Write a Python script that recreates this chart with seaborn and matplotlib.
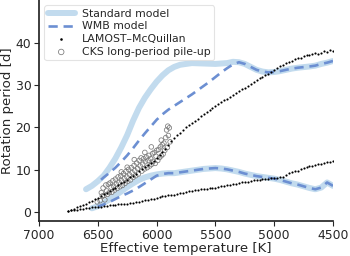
import numpy as np
import pandas as pd
import matplotlib
matplotlib.use("Agg")
import matplotlib.pyplot as plt
import seaborn as sns

# ---------------- data ----------------
std_up_T = [6600, 6550, 6500, 6450, 6400, 6350, 6300, 6250, 6200, 6150, 6100, 6050, 6000,
            5950, 5900, 5850, 5800, 5750, 5700, 5600, 5500, 5400, 5350]
std_up_P = [5.4, 6.2, 7.3, 8.6, 10.5, 12.7, 15.3, 18.2, 21.6, 24.6, 27.0, 29.0, 30.8,
            32.3, 33.5, 34.3, 34.8, 35.0, 35.2, 35.1, 35.0, 35.2, 35.5]
cool_up_T = [5300, 5250, 5200, 5150, 5100, 5050, 5000, 4950, 4900, 4850, 4800, 4700,
             4650, 4600, 4550, 4500]
cool_up_P = [35.4, 35.0, 34.3, 33.6, 33.2, 33.0, 33.1, 33.3, 33.6, 33.9, 34.1, 34.4,
             34.6, 35.0, 35.3, 35.7]
wmb_up_T = [6490, 6450, 6400, 6350, 6300, 6250, 6200, 6150, 6100, 6050, 6000, 5950,
            5900, 5850, 5800, 5750, 5700, 5650, 5600, 5550, 5500, 5450, 5400, 5350]
wmb_up_P = [7.2, 8.2, 9.3, 10.5, 11.9, 13.4, 15.1, 16.9, 18.6, 20.2, 21.8, 23.1,
            24.2, 25.1, 26.0, 26.9, 27.8, 28.8, 29.8, 30.8, 31.9, 33.0, 34.0, 34.9]

std_lo_T = [6550, 6500, 6450, 6400, 6350, 6300, 6250, 6200, 6150, 6100, 6050, 6000, 5950]
std_lo_P = [0.9, 1.4, 2.2, 3.0, 3.9, 4.9, 5.9, 6.8, 7.6, 8.2, 8.6, 8.9, 9.1]
wmb_lo_T = [6500, 6450, 6400, 6350, 6300, 6250, 6200, 6150, 6100, 6050, 6000, 5950]
wmb_lo_P = [1.3, 1.8, 2.4, 3.1, 3.8, 4.4, 5.1, 5.9, 6.8, 7.7, 8.6, 9.0]
cool_lo_T = [5900, 5850, 5800, 5750, 5700, 5650, 5600, 5550, 5500, 5450, 5400, 5350,
             5300, 5250, 5200, 5150, 5100, 5050, 5000, 4950, 4900, 4850, 4800, 4750,
             4700, 4650, 4600, 4550, 4500]
cool_lo_P = [9.2, 9.2, 9.4, 9.6, 9.8, 10.0, 10.2, 10.3, 10.4, 10.3, 10.1, 9.8,
             9.5, 9.1, 8.8, 8.5, 8.3, 8.1, 7.9, 7.6, 7.2, 6.8, 6.5, 6.1,
             5.7, 5.4, 5.8, 7.0, 6.2]

lam_T = [6750, 6725, 6700, 6675, 6650, 6625, 6600, 6575, 6550, 6525, 6500, 6475, 6450,
         6425, 6400, 6375, 6350, 6325, 6300, 6275, 6250, 6225, 6200, 6175, 6150, 6125,
         6100, 6075, 6050, 6025, 6000, 5975, 5950, 5925, 5900, 5875, 5850, 5825, 5800,
         5775, 5750, 5725, 5700, 5675, 5650, 5625, 5600, 5575, 5550, 5525, 5500, 5475,
         5450, 5425, 5400, 5375, 5350, 5325, 5300, 5275, 5250, 5225, 5200, 5175, 5150,
         5125, 5100, 5075, 5050, 5025, 5000, 4975, 4950, 4925, 4900, 4875, 4850, 4825,
         4800, 4775, 4750, 4725, 4700, 4675, 4650, 4625, 4600, 4575, 4550, 4525, 4500]
lam_up_P = [0.3, 0.5, 0.8, 1.1, 1.4, 1.7, 2.0, 2.3, 2.7, 3.0, 3.4, 3.8, 4.2,
            4.6, 5.0, 5.4, 5.8, 6.3, 6.8, 7.2, 7.7, 8.2, 8.6, 9.1, 9.6, 10.1,
            10.6, 11.1, 11.6, 12.1, 12.7, 13.4, 14.2, 15.0, 15.9, 16.7, 17.5, 18.2, 18.8,
            19.4, 20.0, 20.5, 21.0, 21.5, 22.0, 22.6, 23.2, 23.7, 24.2, 24.7, 25.1, 25.6,
            26.0, 26.4, 26.8, 27.2, 27.6, 28.1, 28.5, 29.0, 29.4, 29.9, 30.3, 30.7, 31.1,
            31.6, 31.9, 32.3, 32.6, 33.1, 33.5, 34.1, 34.5, 34.7, 35.2, 35.4, 35.7, 36.2,
            36.3, 36.5, 36.8, 37.2, 37.0, 37.4, 37.5, 37.3, 37.6, 38.1, 37.8, 38.2, 38.0]
lam_lo_P = [0.3, 0.4, 0.5, 0.6, 0.7, 0.8, 0.9, 1.0, 1.1, 1.1, 1.2, 1.3, 1.4,
            1.5, 1.6, 1.6, 1.7, 1.8, 1.9, 2.0, 2.0, 2.1, 2.2, 2.3, 2.5, 2.6,
            2.8, 2.9, 3.1, 3.2, 3.4, 3.6, 3.8, 3.9, 4.0, 4.0, 4.1, 4.2, 4.4,
            4.6, 4.8, 5.0, 5.1, 5.2, 5.3, 5.4, 5.5, 5.5, 5.6, 5.7, 5.8, 6.0,
            6.1, 6.2, 6.3, 6.5, 6.6, 6.7, 6.9, 7.0, 7.1, 7.2, 7.4, 7.5, 7.6,
            7.7, 7.8, 7.8, 7.9, 8.0, 8.0, 8.1, 8.2, 8.4, 8.8, 9.3, 9.5, 9.6,
            9.8, 10.1, 10.4, 10.6, 10.8, 10.9, 11.1, 11.3, 11.4, 11.6, 11.8, 11.9, 12.1]

cks_T = [6480, 6470, 6462, 6455, 6448, 6440, 6432, 6425, 6418, 6410, 6402, 6395, 6388,
         6380, 6372, 6365, 6358, 6350, 6342, 6335, 6328, 6320, 6312, 6305, 6298, 6290,
         6282, 6275, 6268, 6260, 6252, 6245, 6238, 6230, 6222, 6215, 6208, 6200, 6192,
         6185, 6178, 6170, 6162, 6155, 6148, 6140, 6132, 6125, 6118, 6110, 6102, 6095,
         6088, 6080, 6072, 6065, 6058, 6050, 6042, 6035, 6028, 6020, 6012, 6005, 5998,
         5990, 5982, 5975, 5968, 5960, 5952, 5945, 5938, 5930, 5922, 5915, 5908, 5900,
         5892, 5885, 6300, 6250, 6190, 6100, 6045, 5960, 5905, 6505]
cks_P = [2.7, 4.6, 3.8, 5.7, 3.9, 2.9, 6.4, 5.0, 4.2, 6.6, 4.6, 6.9, 5.9,
         4.7, 7.4, 6.1, 5.2, 7.8, 6.6, 5.6, 8.3, 7.0, 6.0, 8.6, 7.4, 6.3,
         9.1, 7.9, 6.8, 9.6, 8.3, 7.3, 10.1, 8.8, 7.6, 10.5, 9.3, 8.2, 11.0,
         9.8, 8.6, 11.6, 10.3, 9.0, 12.2, 10.9, 12.8, 9.7, 11.3, 12.6, 10.2, 11.9,
         13.0, 10.5, 12.2, 13.4, 10.9, 12.6, 11.3, 13.8, 12.0, 14.1, 11.5, 13.2, 14.6,
         12.2, 14.8, 12.9, 15.4, 13.3, 15.9, 13.7, 16.3, 14.6, 17.6, 19.4, 15.3, 18.1,
         19.9, 16.6, 9.5, 10.6, 12.4, 14.1, 15.4, 17.0, 20.3, 2.4]

xticks = [7000, 6500, 6000, 5500, 5000, 4500]
yticks = [0, 10, 20, 30, 40]

# ---------------- style ----------------
sns.set_theme(style="ticks")
plt.rcParams["font.family"] = ["DejaVu Sans"]
FS_TICK = 8.9
FS_LAB = 9.6
FS_LEG = 7.8
LIGHT = "#c2dbee"
DASH = "#6c8fd2"

fig = plt.figure(figsize=(3.5, 2.56), dpi=100)
ax = fig.add_axes([39 / 350, 35 / 256, 294 / 350, 221 / 256])

std_up = pd.DataFrame({"T": std_up_T + cool_up_T, "P": std_up_P + cool_up_P})
std_lo = pd.DataFrame({"T": std_lo_T + cool_lo_T, "P": std_lo_P + cool_lo_P})
wmb_up = pd.DataFrame({"T": wmb_up_T + cool_up_T, "P": wmb_up_P + cool_up_P})
wmb_lo = pd.DataFrame({"T": wmb_lo_T + cool_lo_T, "P": wmb_lo_P + cool_lo_P})

sns.lineplot(data=std_up, x="T", y="P", ax=ax, color=LIGHT, lw=4.3, label="Standard model",
             solid_capstyle="round")
sns.lineplot(data=std_lo, x="T", y="P", ax=ax, color=LIGHT, lw=4.3, solid_capstyle="round")
sns.lineplot(data=wmb_up, x="T", y="P", ax=ax, color=DASH, lw=1.9, linestyle=(0, (3.5, 2.2)),
             label="WMB model")
sns.lineplot(data=wmb_lo, x="T", y="P", ax=ax, color=DASH, lw=1.9, linestyle=(0, (3.5, 2.2)))

lam = pd.DataFrame({"T": lam_T + lam_T, "P": lam_up_P + lam_lo_P})
sns.scatterplot(data=lam, x="T", y="P", ax=ax, color="black", s=2.4, linewidth=0,
                label="LAMOST\u2013McQuillan", zorder=3)
cks = pd.DataFrame({"T": cks_T, "P": cks_P})
sns.scatterplot(data=cks, x="T", y="P", ax=ax, facecolor="none", edgecolor="#7a7a7a",
                s=11, linewidth=0.55, label="CKS long-period pile-up", zorder=2)

ax.set_xlim(7000, 4500)
ax.set_ylim(-2.1, 50.1)
ax.set_xticks(xticks)
ax.set_yticks(yticks)
ax.tick_params(labelsize=FS_TICK, length=3.5, width=0.8, pad=2, colors="#262626")
ax.set_xlabel("Effective temperature [K]", fontsize=FS_LAB, labelpad=0.5)
ax.set_ylabel("Rotation period [d]", fontsize=FS_LAB, labelpad=1.5)
sns.despine(ax=ax)

leg = ax.legend(loc="upper left", fontsize=FS_LEG, frameon=True, borderaxespad=0.5,
                handlelength=2.5, labelspacing=0.25, borderpad=0.3, handletextpad=0.65,
                markerscale=1.2)
leg.get_frame().set_edgecolor("#dddddd")
leg.get_frame().set_linewidth(0.8)

fig.savefig("out.png", dpi=100)
